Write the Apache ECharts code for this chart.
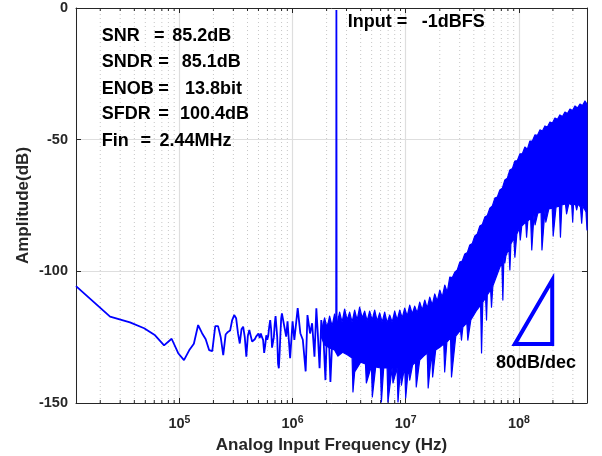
<!DOCTYPE html>
<html><head><meta charset="utf-8">
<script src="https://cdn.jsdelivr.net/npm/echarts@6/dist/echarts.min.js"></script>
<style>html,body{margin:0;padding:0;background:#fff}#c{width:602px;height:456px}</style>
</head><body><div id="c"></div>
<script>
const FONT = '"Liberation Sans", Arial, Helvetica, sans-serif';
const BLUE = '#0000ff';
const AX = '#262626';

// axis limits / ticks
const xMin = 12207, xMax = 4e8;
const yTicks = [-150, -100, -50, 0];
const minorGridHz = [2e4,3e4,4e4,5e4,6e4,7e4,8e4,9e4,
  2e5,3e5,4e5,5e5,6e5,7e5,8e5,9e5,
  2e6,3e6,4e6,5e6,6e6,7e6,8e6,9e6,
  2e7,3e7,4e7,5e7,6e7,7e7,8e7,9e7,
  2e8,3e8];

// spectrum: individual bins (low frequency part + fundamental)
const spectrumHz = [12207, 24414, 36621, 48828, 61035, 73242, 85449, 97656, 109863, 122070,
  134277, 146484, 158691, 170898, 183105, 195313, 207520, 219727, 231934, 244141,
  256348, 268555, 280762, 292969, 305176, 317383, 329590, 341797, 354004, 366211,
  378418, 390625, 402832, 415039, 427246, 439453, 451660, 463867, 476074, 488281,
  500488, 512695, 524902, 537109, 549316, 561523, 573730, 585938, 598145, 610352,
  622559, 634766, 646973, 659180, 671387, 683594, 695801, 708008, 720215, 732422,
  744629, 756836, 769043, 781250, 793457, 805664, 817871,
  878906, 903320, 952148, 1000977, 1037598, 1110840, 1171875, 1232910, 1306152, 1354980,
  1428223, 1489258, 1562500, 1623535, 1672363, 1733398, 1794434, 1879883, 1953125, 2014160,
  2075195, 2160645, 2258301, 2331543, 2392578, 2429199, 2441406, 2453613, 2490234, 2563477, 2636719];
const spectrumDb = [-105.6, -117.2, -119.4, -121.6, -124.3, -128.1, -125.6, -131.1, -133.7, -130.0,
  -127.5, -120.4, -123.5, -125.8, -129.9, -130.3, -120.8, -120.8, -125.0, -131.8,
  -124.0, -123.0, -122.5, -118.5, -116.6, -117.8, -123.5, -127.4, -122.0, -121.0,
  -125.0, -132.4, -124.5, -122.3, -123.0, -126.7, -126.3, -125.8, -124.8, -124.3,
  -123.6, -125.3, -123.6, -125.0, -126.0, -131.0, -128.0, -124.3, -126.0, -124.5,
  -121.0, -118.5, -122.0, -129.0, -128.5, -125.0, -120.0, -117.0, -116.6, -125.0,
  -135.0, -136.8, -131.0, -124.0, -118.0, -116.0, -115.9,
  -124.8, -119.0, -133.0, -119.0, -126.0, -114.0, -123.5, -126.0, -138.0, -116.6,
  -123.6, -119.7, -132.4, -114.0, -123.6, -136.8, -118.5, -126.0, -141.3, -122.3,
  -119.7, -142.0, -123.6, -119.0, -128.0, -121.0, -0.8, -121.0, -130.0, -117.0, -128.0];

// dense noise band: upper edge (left -> right)
const bandTopHz = [1.81e6, 1.92e6, 2.02e6, 2.126e6, 2.237e6, 2.353e6, 2.476e6, 2.606e6, 2.742e6, 2.885e6,
  3.036e6, 3.195e6, 3.362e6, 3.538e6, 3.723e6, 3.917e6, 4.122e6, 4.337e6, 4.564e6, 4.802e6,
  5.053e6, 5.318e6, 5.596e6, 5.888e6, 6.196e6, 6.52e6, 6.861e6, 7.218e6, 7.596e6, 7.993e6,
  8.411e6, 8.85e6, 9.313e6, 9.799e6, 1.031e7, 1.085e7, 1.142e7, 1.201e7, 1.264e7, 1.33e7,
  1.4e7, 1.473e7, 1.55e7, 1.631e7, 1.716e7, 1.806e7, 1.9e7, 2.0e7, 2.104e7, 2.214e7,
  2.33e7, 2.451e7, 2.579e7, 2.714e7, 2.856e7, 3.005e7, 3.162e7, 3.328e7, 3.502e7, 3.685e7,
  3.878e7, 4.08e7, 4.293e7, 4.518e7, 4.754e7, 5.002e7, 5.264e7, 5.539e7, 5.829e7, 6.133e7,
  6.454e7, 6.791e7, 7.146e7, 7.519e7, 7.912e7, 8.325e7, 8.761e7, 9.218e7, 9.7e7, 1.021e8,
  1.074e8, 1.13e8, 1.189e8, 1.251e8, 1.317e8, 1.386e8, 1.458e8, 1.534e8, 1.615e8, 1.699e8,
  1.788e8, 1.881e8, 1.98e8, 2.083e8, 2.192e8, 2.306e8, 2.427e8, 2.553e8, 2.687e8, 2.827e8,
  2.975e8, 3.131e8, 3.295e8, 3.466e8, 3.647e8, 3.838e8, 4.0e8];
const bandTopDb = [-122.3, -117.7, -121.5, -117.0, -120.8, -116.2, -120.1, -115.5, -119.3, -114.3,
  -118.5, -115.5, -119.3, -114.7, -118.5, -113.6, -117.7, -115.1, -118.9, -115.1,
  -118.5, -114.7, -118.9, -115.8, -119.3, -115.5, -119.6, -116.6, -119.3, -115.1,
  -118.5, -114.7, -117.7, -114.0, -117.0, -112.8, -116.2, -113.2, -115.8, -111.7,
  -114.7, -110.9, -114.0, -109.8, -112.8, -108.6, -111.3, -107.1, -109.8, -105.2,
  -107.9, -102.2, -102.4, -100.3, -99.5, -96.5, -96.1, -93.4, -92.9, -90.0,
  -89.4, -86.6, -85.8, -82.8, -82.2, -79.4, -78.8, -76.0, -75.2, -72.2,
  -71.8, -69.1, -68.4, -65.3, -64.6, -61.5, -61.0, -58.1, -57.9, -55.4,
  -55.3, -52.8, -53.6, -50.5, -50.5, -48.2, -48.4, -46.3, -46.7, -44.8,
  -45.2, -43.3, -43.7, -41.8, -42.3, -40.6, -41.2, -39.5, -40.1, -38.4,
  -38.9, -37.2, -38.0, -36.5, -37.0, -35.3, -36.5];

// dense noise band: lower edge with deep spikes (right -> left)
const bandBottomHz = [4.0e8, 3.92e8, 3.68e8, 3.59e8, 3.50e8, 3.33e8, 3.24e8, 3.16e8, 3.04e8, 2.99e8,
  2.93e8, 2.77e8, 2.64e8, 2.58e8, 2.40e8, 2.33e8, 2.28e8, 2.13e8, 2.01e8, 1.97e8,
  1.84e8, 1.73e8, 1.70e8, 1.60e8, 1.57e8, 1.47e8, 1.39e8, 1.36e8, 1.30e8, 1.27e8,
  1.20e8, 1.17e8, 1.15e8, 1.06e8, 1.03e8, 1.01e8, 9.60e7, 9.22e7, 9.03e7, 8.50e7,
  8.33e7, 8.16e7, 7.67e7, 7.52e7, 7.37e7, 7.22e7, 7.07e7, 6.65e7, 6.26e7, 5.89e7,
  5.73e7, 5.63e7, 5.26e7, 5.18e7, 5.08e7, 4.80e7, 4.68e7, 4.59e7, 4.25e7, 4.00e7,
  3.76e7, 3.54e7, 3.47e7, 3.20e7, 3.11e7, 3.05e7, 2.77e7, 2.54e7, 2.49e7, 2.31e7,
  2.21e7, 2.17e7, 2.00e7, 1.84e7, 1.73e7, 1.70e7, 1.58e7, 1.55e7, 1.44e7, 1.33e7,
  1.24e7, 1.22e7, 1.15e7, 1.085e7, 1.06e7, 1.00e7, 9.80e6, 9.16e6, 9.00e6, 8.55e6,
  8.39e6, 7.72e6, 7.58e6, 6.97e6, 6.85e6, 6.39e6, 6.10e6, 5.98e6, 5.43e6, 5.07e6,
  4.98e6, 4.49e6, 4.41e6, 4.00e6, 3.54e6, 3.42e6, 3.36e6, 3.07e6, 2.77e6, 2.52e6,
  2.35e6, 2.126e6, 1.92e6, 1.81e6];
const bandBottomDb = [-84.3, -77.5, -75.2, -81.7, -75.6, -74.4, -76.7, -74.4, -74.8, -81.3,
  -74.8, -74.1, -78.2, -74.4, -74.8, -87.0, -75.2, -75.6, -86.6, -76.0,
  -76.3, -81.3, -76.7, -91.9, -77.5, -77.9, -82.4, -78.6, -91.9, -79.8,
  -80.9, -87.0, -81.3, -82.8, -88.1, -83.6, -85.8, -94.6, -87.4, -89.6,
  -99.5, -91.2, -94.2, -96.8, -94.9, -110.9, -96.5, -99.5, -102.5, -105.6,
  -113.6, -107.1, -109.0, -118.5, -110.1, -111.7, -131.0, -112.8, -114.7, -116.6,
  -118.5, -126.1, -119.6, -121.2, -126.1, -122.3, -124.6, -140.1, -125.3, -126.9,
  -138.2, -127.6, -128.8, -129.9, -140.1, -130.3, -144.3, -131.0, -132.2, -133.7,
  -143.9, -134.5, -135.6, -141.3, -136.0, -148.1, -136.3, -143.2, -136.7, -149.6,
  -136.7, -142.4, -136.7, -149.6, -136.7, -136.7, -149.6, -136.7, -136.3, -147.7,
  -136.0, -142.4, -135.2, -134.5, -138.2, -145.8, -132.9, -131.8, -130.7, -132.2,
  -129.9, -129.1, -128.0, -125.3];

// 80 dB/dec slope triangle
const slopeHz = [9.22e7, 1.971e8, 1.971e8];
const slopeDb = [-127.6, -103.3, -127.6];

// annotation texts
const statLabels = ['SNR', 'SNDR', 'ENOB', 'SFDR', 'Fin'];
const statValues = ['85.2dB', '85.1dB', '13.8bit', '100.4dB', '2.44MHz'];
const statRowY = [35.8, 62.5, 89.2, 114.5, 141.5];
const statEqX = [154, 158.3, 158.3, 158.3, 140.5];
const statValX = [172.3, 181.7, 185, 180, 159.5];

const chart = echarts.init(document.getElementById('c'), null, {renderer: 'canvas'});

function txt(text, x, y, size, extra) {
  return Object.assign({
    type: 'text', x: x, y: y, z: 100,
    style: {text: text, fill: '#000', fontSize: size, fontWeight: 'bold', fontFamily: FONT,
      align: 'left', verticalAlign: 'middle'}
  }, extra || {});
}
const graphics = [];
statLabels.forEach((l, i) => {
  graphics.push(txt(l, 101.7, statRowY[i], 18));
  graphics.push(txt('=', statEqX[i], statRowY[i], 18));
  graphics.push(txt(statValues[i], statValX[i], statRowY[i], 18));
});
graphics.push(txt('Input', 347.7, 22.5, 18));
graphics.push(txt('=', 396.7, 22.5, 18));
graphics.push(txt('-1dBFS', 421.7, 22.5, 18));
graphics.push(txt('80dB/dec', 496, 362.7, 18));
graphics.push({type: 'text', x: 331.5, y: 445, z: 100,
  style: {text: 'Analog Input Frequency (Hz)', fill: AX, fontSize: 17, fontWeight: 'bold', fontFamily: FONT, align: 'center', verticalAlign: 'middle'}});
graphics.push({type: 'text', x: 23, y: 205.5, rotation: Math.PI / 2, z: 100,
  style: {text: 'Amplitude(dB)', fill: AX, fontSize: 17, fontWeight: 'bold', fontFamily: FONT, align: 'center', verticalAlign: 'middle'}});

function logLabel(v) {
  const e = Math.log10(v);
  if (Math.abs(e - Math.round(e)) > 1e-6) return '';
  return '{a|10}{b|' + Math.round(e) + '}';
}

const xBase = {
  type: 'log', logBase: 10, min: xMin, max: xMax,
  axisLine: {show: true, onZero: false, lineStyle: {color: AX, width: 1}},
  axisTick: {show: true, inside: true, length: 5, lineStyle: {color: AX}},
  minorTick: {show: false}
};
const yBase = {
  type: 'value', min: yTicks[0], max: yTicks[yTicks.length - 1], interval: 50,
  axisLine: {show: true, onZero: false, lineStyle: {color: AX, width: 1}},
  axisTick: {show: true, inside: true, length: 5, lineStyle: {color: AX}}
};

chart.setOption({
  animation: false,
  backgroundColor: '#fff',
  grid: {left: 76, right: 15, top: 8, bottom: 53, containLabel: false},
  xAxis: [
    Object.assign({}, xBase, {
      position: 'bottom',
      axisLabel: {show: true, margin: 12, formatter: logLabel, showMinLabel: false, showMaxLabel: false,
        rich: {
          a: {fontSize: 14.5, fontWeight: 'bold', color: AX, fontFamily: FONT, lineHeight: 18},
          b: {fontSize: 10.5, fontWeight: 'bold', color: AX, fontFamily: FONT, verticalAlign: 'top', lineHeight: 10}
        }},
      splitLine: {show: true, lineStyle: {color: '#dedede', width: 1.2}}
    }),
    Object.assign({}, xBase, {position: 'top', axisLabel: {show: false}, splitLine: {show: false}})
  ],
  yAxis: [
    Object.assign({}, yBase, {
      position: 'left',
      axisLabel: {show: true, margin: 8, fontSize: 14.5, fontWeight: 'bold', color: AX, fontFamily: FONT},
      splitLine: {show: true, lineStyle: {color: '#dedede', width: 1.2}}
    }),
    Object.assign({}, yBase, {position: 'right', axisLabel: {show: false}, splitLine: {show: false}})
  ],
  graphic: graphics,
  series: [
    {
      type: 'custom', name: 'minorGrid', z: 1, silent: true,
      data: minorGridHz.map(v => [v, yTicks[0]]),
      renderItem: function (params, api) {
        const v = api.value(0);
        const b = api.coord([v, yTicks[0]]);
        const t = api.coord([v, yTicks[yTicks.length - 1]]);
        return {type: 'group', children: [
          {type: 'line', shape: {x1: b[0], y1: b[1], x2: t[0], y2: t[1]}, style: {stroke: '#c6c6c6', lineWidth: 1, lineDash: [1, 3]}},
          {type: 'line', shape: {x1: b[0], y1: b[1], x2: b[0], y2: b[1] - 3}, style: {stroke: AX, lineWidth: 1}},
          {type: 'line', shape: {x1: t[0], y1: t[1], x2: t[0], y2: t[1] + 3}, style: {stroke: AX, lineWidth: 1}}
        ]};
      }
    },
    {
      type: 'custom', name: 'band', z: 3, silent: true,
      data: [[bandTopHz[0], bandTopDb[0]]],
      renderItem: function (params, api) {
        const pts = bandTopHz.map((f, i) => api.coord([f, bandTopDb[i]]))
          .concat(bandBottomHz.map((f, i) => api.coord([f, bandBottomDb[i]])));
        return {type: 'polygon', shape: {points: pts}, style: {fill: BLUE, stroke: BLUE, lineWidth: 1.2, lineJoin: 'round'}};
      }
    },
    {
      type: 'line', name: 'spectrum', z: 4, silent: true,
      data: spectrumHz.map((f, i) => [f, spectrumDb[i]]),
      showSymbol: false, symbol: 'none',
      lineStyle: {color: BLUE, width: 1.8}
    },
    {
      type: 'custom', name: 'slope', z: 5, silent: true,
      data: [[slopeHz[0], slopeDb[0]]],
      renderItem: function (params, api) {
        const pts = slopeHz.map((f, i) => api.coord([f, slopeDb[i]]));
        return {type: 'polygon', shape: {points: pts}, style: {fill: 'none', stroke: BLUE, lineWidth: 4, lineJoin: 'miter'}};
      }
    }
  ]
});
</script>
</body></html>
